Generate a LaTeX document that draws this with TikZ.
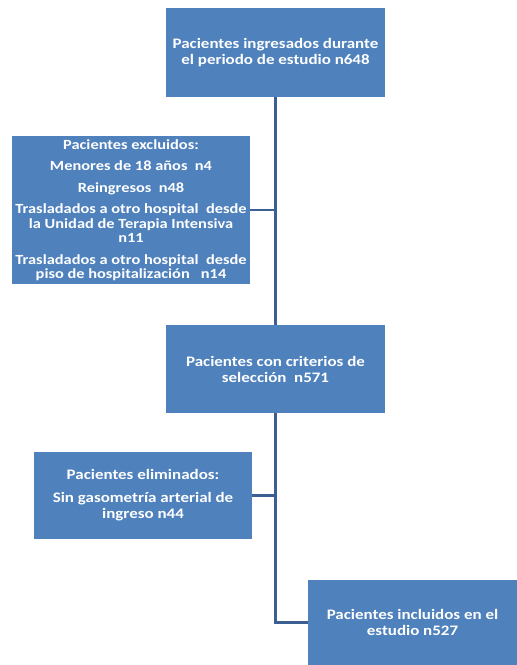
\documentclass[tikz,border=0pt]{standalone}
\usepackage{fontspec}
\setmainfont{Carlito}[FakeStretch=1.17]
\usepackage{xcolor}
\definecolor{cBox}{HTML}{4F81BD}
\definecolor{cLine}{HTML}{3B5F92}
\usepackage{tikz}
\usetikzlibrary{positioning}
\tikzset{
  node-box/.style={fill=cBox,draw=none,align=center,text=white,
    font=\fontsize{14.5}{16}\selectfont\bfseries,inner sep=2pt},
  node-list/.style={node-box,font=\fontsize{14}{14.5}\selectfont\bfseries},
  link/.style={draw=cLine,line width=2.6pt},
}
\begin{document}
\begin{tikzpicture}[x=1pt,y=-1pt]
  \useasboundingbox (0,0) rectangle (517,665);
  % cajas del diagrama de flujo
  \node[node-box,minimum width=219pt,minimum height=89pt] (ingreso) at (275.5,52.5)
    {Pacientes ingresados durante\\el periodo de estudio n648};
  \node[node-list,minimum width=238pt,minimum height=148pt] (excluidos) at (131,210)
    {Pacientes excluidos:\\[7pt]
     Menores de 18 años\ \ n4\\[7pt]
     Reingresos\ \ n48\\[7pt]
     Trasladados a otro hospital\ \ desde\\la Unidad de Terapia Intensiva\\n11\\[7pt]
     Trasladados a otro hospital\ \ desde\\piso de hospitalización\ \ \ n14};
  \node[node-box,minimum width=219pt,minimum height=88pt] (criterios) at (275.5,369)
    {Pacientes con criterios de\\selección\ \ n571};
  \node[node-box,minimum width=218pt,minimum height=87pt] (eliminados) at (143,495.5)
    {Pacientes eliminados:\\[7pt]Sin gasometría arterial de\\ingreso n44};
  \node[node-box,minimum width=209pt,minimum height=85pt] (incluidos) at (412.5,622.5)
    {Pacientes incluidos en el\\estudio n527};
  % conectores
  \draw[link] (ingreso.south) -- (criterios.north);
  \draw[link] (excluidos.east) -- (excluidos.east -| ingreso.south);
  \draw[link] (criterios.south) |- (incluidos.west);
  \draw[link] (eliminados.east) -- (eliminados.east -| criterios.south);
\end{tikzpicture}
\end{document}
